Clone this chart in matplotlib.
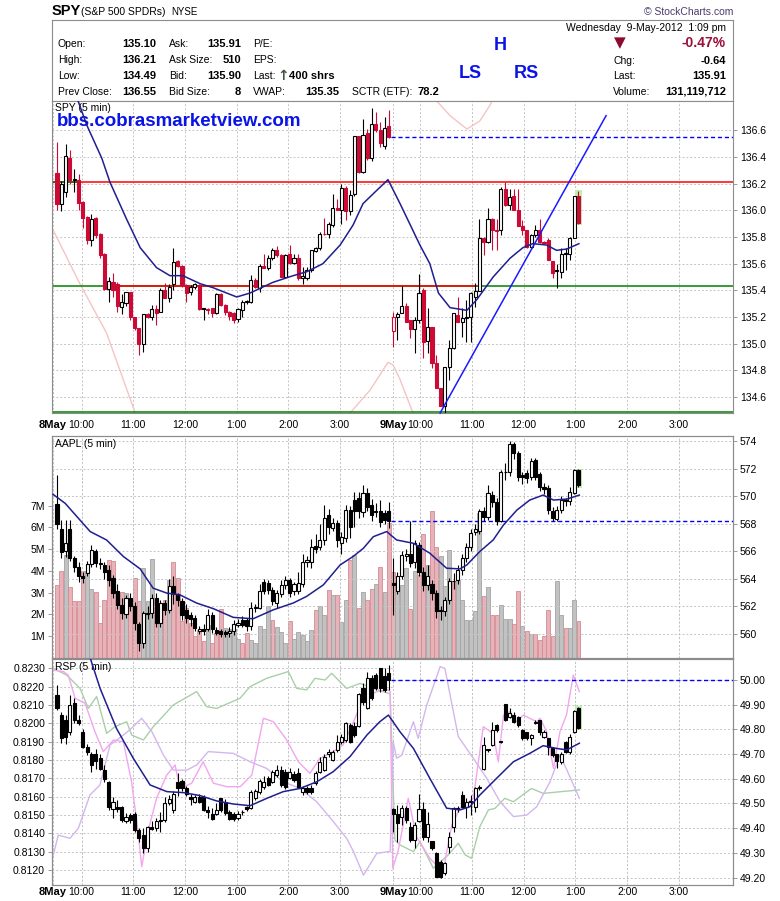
import numpy as np
import matplotlib
matplotlib.use("Agg")
import matplotlib.pyplot as plt
from matplotlib.patches import Rectangle

plt.rcParams.update({"font.family": ["Liberation Sans", "DejaVu Sans"], "font.size": 7.5,
                     "axes.linewidth": 0.8})

# ---- data: 5-min bars, 8 May (78 bars) then 9 May (44 bars, up to 1:05 pm) ----
spy_open = [136.28, 136.05, 136.14, 136.39, 136.225, 136.23, 136.06, 135.95, 135.78, 135.94,
            135.82, 135.67, 135.41, 135.46, 135.45, 135.275, 135.305, 135.385, 135.20, 135.12,
            134.995, 135.22, 135.197, 135.257, 135.24, 135.405, 135.34, 135.45, 135.62, 135.584,
            135.44, 135.385, 135.422, 135.44, 135.265, 135.26, 135.265, 135.232, 135.372, 135.29,
            135.24, 135.232, 135.182, 135.252, 135.315, 135.315, 135.476, 135.415, 135.584, 135.57,
            135.64, 135.701, 135.664, 135.50, 135.671, 135.606, 135.644, 135.49, 135.49, 135.556,
            135.696, 135.721, 135.826, 135.826, 135.889, 136.02, 136.006, 136.17, 135.996, 136.12,
            136.555, 136.288, 136.58, 136.39, 136.65, 136.605, 136.48, 136.63,
            135.097, 135.20, 135.23, 135.282, 135.177, 135.107, 135.177, 135.402, 135.022, 135.122,
            134.852, 134.67, 134.53, 134.827, 134.965, 135.214, 135.164, 135.19, 135.197, 135.352,
            135.397, 135.794, 135.764, 135.938, 135.851, 135.851, 136.163, 136.038, 136.105, 136.006,
            135.886, 135.851, 135.726, 135.813, 135.856, 135.764, 135.776, 135.62, 135.55, 135.539,
            135.67, 135.676, 135.796, 136.106]
spy_high = [136.51, 136.22, 136.495, 136.455, 136.31, 136.27, 136.07, 135.96, 135.97, 135.95,
            135.83, 135.68, 135.50, 135.53, 135.46, 135.37, 135.39, 135.39, 135.20, 135.12,
            135.225, 135.23, 135.29, 135.29, 135.415, 135.455, 135.45, 135.714, 135.626, 135.59,
            135.45, 135.44, 135.455, 135.45, 135.27, 135.27, 135.27, 135.382, 135.38, 135.295,
            135.245, 135.24, 135.264, 135.327, 135.325, 135.515, 135.49, 135.60, 135.676, 135.664,
            135.714, 135.731, 135.67, 135.669, 135.739, 135.676, 135.676, 135.576, 135.576, 135.706,
            135.726, 135.84, 135.94, 135.914, 136.12, 136.088, 136.20, 136.18, 136.15, 136.56,
            136.56, 136.682, 136.61, 136.77, 136.74, 136.66, 136.70, 136.75,
            135.24, 135.24, 135.432, 135.302, 135.18, 135.202, 135.521, 135.414, 135.264, 135.127,
            134.915, 134.67, 134.827, 135.027, 135.232, 135.352, 135.264, 135.327, 135.389, 135.452,
            135.934, 135.80, 136.021, 135.945, 135.938, 136.175, 136.21, 136.163, 136.163, 136.163,
            135.926, 135.856, 135.826, 135.889, 135.934, 135.77, 135.789, 135.62, 135.601, 135.714,
            135.714, 135.801, 136.11, 136.143]
spy_low = [136.00, 135.995, 136.10, 136.20, 136.14, 136.00, 135.865, 135.75, 135.73, 135.79,
           135.64, 135.40, 135.315, 135.35, 135.24, 135.225, 135.28, 135.18, 135.10, 134.915,
           134.94, 135.19, 135.18, 135.14, 135.235, 135.34, 135.315, 135.40, 135.575, 135.426,
           135.315, 135.365, 135.41, 135.25, 135.18, 135.22, 135.20, 135.225, 135.28, 135.215,
           135.175, 135.152, 135.165, 135.202, 135.30, 135.307, 135.415, 135.39, 135.564, 135.55,
           135.627, 135.651, 135.50, 135.496, 135.601, 135.60, 135.48, 135.444, 135.476, 135.539,
           135.689, 135.70, 135.814, 135.79, 135.876, 136.00, 135.90, 135.93, 135.963, 136.11,
           136.28, 136.28, 136.38, 136.37, 136.59, 136.475, 136.46, 136.54,
           134.977, 135.027, 135.227, 135.164, 135.04, 134.927, 135.152, 134.89, 134.927, 134.815,
           134.665, 134.53, 134.48, 134.727, 134.957, 135.164, 135.052, 135.015, 135.015, 135.277,
           135.397, 135.664, 135.756, 135.701, 135.701, 135.818, 136.03, 136.00, 136.006, 135.881,
           135.814, 135.721, 135.714, 135.80, 135.756, 135.75, 135.626, 135.489, 135.414, 135.489,
           135.551, 135.626, 135.79, 135.896]
spy_close = [136.05, 136.20, 136.405, 136.225, 136.235, 136.055, 135.94, 135.78, 135.935, 135.815,
             135.664, 135.41, 135.47, 135.40, 135.28, 135.31, 135.385, 135.20, 135.115, 134.995,
             135.22, 135.20, 135.257, 135.232, 135.405, 135.345, 135.427, 135.614, 135.584, 135.44,
             135.382, 135.422, 135.445, 135.26, 135.26, 135.255, 135.232, 135.372, 135.29, 135.24,
             135.207, 135.177, 135.257, 135.315, 135.32, 135.476, 135.427, 135.581, 135.571, 135.644,
             135.701, 135.664, 135.501, 135.664, 135.606, 135.644, 135.49, 135.506, 135.556, 135.701,
             135.721, 135.826, 135.819, 135.90, 136.02, 136.006, 136.17, 135.996, 136.113, 136.555,
             136.288, 136.562, 136.39, 136.65, 136.605, 136.505, 136.62, 136.55,
             135.20, 135.22, 135.282, 135.164, 135.107, 135.177, 135.382, 135.015, 135.122, 134.852,
             134.665, 134.53, 134.827, 134.965, 135.232, 135.164, 135.19, 135.197, 135.382, 135.397,
             135.794, 135.764, 135.938, 135.851, 135.846, 136.163, 136.038, 136.10, 136.006, 135.886,
             135.851, 135.726, 135.813, 135.856, 135.764, 135.756, 135.626, 135.531, 135.545, 135.676,
             135.68, 135.796, 136.106, 135.906]

aapl_open = [569.44, 567.63, 566.0, 567.63, 565.55, 564.9, 564.25, 564.4, 565.07, 566.0,
             565.15, 565.0, 564.66, 564.06, 563.1, 562.1, 561.45, 562.65, 562.0, 560.7,
             559.35, 561.47, 561.5, 562.6, 560.8, 562.25, 561.76, 563.5, 562.9, 562.4,
             561.76, 561.4, 561.16, 560.2, 560.4, 560.4, 561.4, 560.3, 560.2, 560.15,
             560.07, 560.2, 560.68, 561.0, 561.0, 560.56, 561.88, 561.9, 563.8, 563.7,
             563.2, 562.25, 562.92, 563.53, 563.94, 563.1, 563.1, 563.65, 565.26, 565.2,
             566.4, 566.35, 566.83, 568.64, 567.73, 568.04, 566.6, 566.95, 569.0, 569.73,
             569.85, 568.84, 570.21, 569.37, 568.9, 568.9, 568.8, 568.9,
             563.7, 563.16, 564.18, 565.7, 565.8, 565.22, 566.47, 564.54, 563.57, 563.62,
             562.97, 561.76, 561.64, 562.49, 563.86, 563.94, 564.66, 565.5, 566.35, 567.44,
             567.48, 568.93, 568.52, 570.09, 569.61, 568.21, 571.73, 571.73, 573.83, 573.11,
             571.54, 571.66, 571.42, 572.63, 571.59, 570.69, 570.57, 568.93, 568.35, 569.01,
             569.73, 569.66, 570.26, 571.9]
aapl_high = [571.54, 568.3, 568.3, 568.3, 565.7, 565.2, 564.5, 565.3, 566.5, 566.2,
             565.5, 565.2, 565.0, 564.3, 563.6, 562.6, 562.8, 563.0, 562.3, 560.9,
             561.7, 562.0, 562.9, 563.0, 562.5, 562.5, 564.0, 564.2, 563.0, 562.6,
             562.2, 561.6, 561.4, 560.6, 560.7, 561.8, 561.6, 560.5, 560.4, 560.3,
             560.5, 561.0, 561.1, 561.3, 561.2, 562.3, 562.2, 563.6, 564.0, 563.9,
             563.4, 563.2, 563.9, 564.2, 564.1, 563.8, 564.5, 565.8, 565.7, 566.9,
             567.3, 568.0, 569.4, 569.1, 568.4, 568.3, 567.4, 569.4, 569.3, 570.3,
             570.3, 570.8, 570.6, 569.8, 569.5, 569.7, 569.0, 569.6,
             565.5, 564.5, 566.0, 566.2, 568.2, 566.8, 566.7, 564.9, 565.0, 563.9,
             563.2, 562.0, 562.7, 564.1, 564.4, 565.0, 565.8, 566.6, 567.6, 568.0,
             569.1, 569.2, 570.8, 570.4, 569.9, 571.9, 572.4, 574.0, 573.95, 573.3,
             571.8, 571.9, 572.8, 572.8, 571.8, 571.0, 570.8, 569.2, 569.3, 570.0,
             569.9, 570.7, 572.0, 571.95]
aapl_low = [567.6, 565.5, 565.6, 565.3, 564.5, 563.8, 563.7, 564.2, 564.9, 564.9,
            564.7, 564.0, 563.5, 562.6, 561.8, 561.1, 561.2, 561.7, 560.3, 558.8,
            559.0, 561.1, 561.2, 560.5, 560.5, 561.4, 561.5, 562.2, 562.0, 561.0,
            560.8, 560.6, 560.2, 560.0, 559.9, 560.2, 560.1, 559.9, 559.8, 559.8,
            559.8, 559.9, 560.5, 560.5, 560.2, 560.3, 561.6, 561.8, 562.9, 562.9,
            562.1, 561.9, 562.7, 563.3, 562.7, 562.8, 562.9, 563.4, 564.9, 564.8,
            565.9, 566.1, 566.5, 567.3, 567.5, 566.3, 565.8, 566.7, 567.0, 567.8,
            568.4, 568.5, 568.9, 568.2, 568.5, 567.8, 568.0, 567.7,
            561.4, 562.9, 564.0, 565.3, 564.9, 564.8, 564.2, 563.1, 563.2, 562.5,
            561.2, 561.0, 561.3, 562.2, 563.3, 563.6, 564.3, 565.2, 566.0, 567.2,
            567.3, 568.2, 568.3, 569.2, 567.9, 568.1, 571.2, 571.5, 572.7, 571.1,
            570.9, 571.0, 571.2, 571.2, 570.4, 570.2, 568.7, 568.2, 568.2, 568.8,
            569.3, 569.4, 570.2, 570.7]
aapl_close = [567.97, 565.99, 566.6, 565.55, 564.9, 564.25, 564.1, 565.07, 566.1, 565.15,
              565.07, 564.54, 563.9, 562.97, 562.1, 561.5, 562.6, 562.0, 560.8, 559.35,
              561.5, 561.52, 562.6, 560.8, 562.25, 561.76, 563.5, 562.9, 562.5, 561.4,
              561.16, 561.1, 560.44, 560.4, 560.25, 561.4, 560.4, 560.08, 560.0, 560.03,
              560.24, 560.73, 560.8, 560.68, 560.6, 561.88, 561.95, 563.14, 563.14, 563.2,
              562.37, 562.97, 563.57, 563.94, 562.97, 563.6, 563.7, 565.26, 565.4, 566.35,
              566.16, 566.83, 568.45, 567.8, 568.04, 566.83, 567.03, 569.0, 567.8, 568.93,
              568.9, 570.21, 569.25, 568.64, 568.84, 568.16, 568.3, 568.18,
              563.57, 564.18, 565.75, 565.8, 565.19, 566.59, 564.54, 563.57, 564.18, 562.97,
              561.64, 561.64, 562.49, 563.86, 563.82, 564.66, 565.55, 566.35, 567.32, 567.63,
              568.93, 568.52, 570.21, 569.56, 568.21, 571.78, 571.78, 573.83, 573.11, 571.42,
              571.42, 571.3, 572.55, 571.42, 570.69, 570.53, 569.01, 568.4, 569.01, 569.73,
              569.66, 570.33, 571.9, 570.82]
aapl_volume_m = [3.37, 4.02, 4.71, 3.24, 2.6, 2.6, 4.02, 4.02, 3.18, 3.03,
                 1.61, 2.68, 4.48, 4.47, 2.91, 3.02, 2.98, 2.48, 3.67, 2.6,
                 4.13, 2.6, 4.56, 2.68, 2.25, 2.68, 3.6, 4.39, 3.67, 1.69,
                 2.3, 1.61, 1.0, 1.27, 0.8, 1.53, 0.69, 1.15, 2.25, 1.38,
                 1.34, 1.31, 0.88, 0.69, 1.15, 0.85, 0.69, 1.46, 1.34, 2.37,
                 1.76, 1.41, 1.18, 0.69, 1.69, 0.89, 1.18, 1.05, 0.77, 1.27,
                 2.19, 2.4, 1.99, 3.14, 2.91, 2.91, 1.64, 2.68, 4.5, 4.74,
                 2.3, 3.02, 2.68, 3.18, 3.41, 4.2, 3.02, 6.19,
                 3.95, 3.32, 3.37, 4.13, 2.25, 4.02, 3.82, 5.70, 4.28, 6.76,
                 5.12, 4.69, 3.29, 4.97, 3.52, 3.6, 2.68, 1.73, 1.76, 2.15,
                 6.68, 2.86, 3.24, 1.99, 1.99, 2.45, 1.79, 1.79, 1.58, 3.09,
                 1.49, 1.23, 1.12, 1.12, 0.85, 1.0, 2.19, 1.0, 3.55, 1.99,
                 1.38, 1.38, 2.68, 1.72]

rsp_open = [49.939, 49.858, 49.84, 49.788, 49.906, 49.838, 49.791, 49.73, 49.70, 49.70,
            49.686, 49.636, 49.588, 49.478, 49.487, 49.487, 49.43, 49.453, 49.456, 49.393,
            49.372, 49.318, 49.406, 49.399, 49.43, 49.433, 49.50, 49.474, 49.588, 49.591,
            49.561, 49.528, 49.507, 49.528, 49.528, 49.474, 49.456, 49.456, 49.521, 49.507,
            49.467, 49.456, 49.44, 49.465, 49.487, 49.48, 49.521, 49.548, 49.568, 49.605,
            49.588, 49.615, 49.636, 49.629, 49.605, 49.618, 49.622, 49.545, 49.564, 49.564,
            49.582, 49.626, 49.636, 49.70, 49.676, 49.716, 49.748, 49.757, 49.818, 49.815,
            49.815, 49.966, 49.888, 50.007, 50.02, 50.047, 50.017, 50.03,
            49.478, 49.456, 49.447, 49.483, 49.406, 49.352, 49.43, 49.478, 49.366, 49.348,
            49.298, 49.264, 49.217, 49.325, 49.406, 49.478, 49.534, 49.487, 49.507, 49.487,
            49.561, 49.64, 49.716, 49.737, 49.818, 49.753, 49.902, 49.852, 49.858, 49.852,
            49.798, 49.788, 49.767, 49.825, 49.838, 49.77, 49.767, 49.723, 49.699, 49.669,
            49.748, 49.71, 49.788, 49.888]
rsp_high = [49.98, 49.87, 49.86, 49.94, 49.926, 49.858, 49.80, 49.74, 49.71, 49.72,
            49.70, 49.656, 49.59, 49.528, 49.514, 49.49, 49.46, 49.46, 49.466, 49.40,
            49.40, 49.41, 49.43, 49.44, 49.467, 49.528, 49.534, 49.55, 49.622, 49.60,
            49.57, 49.54, 49.534, 49.54, 49.534, 49.49, 49.48, 49.50, 49.521, 49.52,
            49.474, 49.465, 49.47, 49.474, 49.49, 49.555, 49.56, 49.60, 49.61, 49.61,
            49.636, 49.656, 49.65, 49.64, 49.642, 49.63, 49.642, 49.57, 49.57, 49.575,
            49.63, 49.69, 49.70, 49.72, 49.716, 49.777, 49.78, 49.831, 49.825, 49.83,
            49.946, 49.987, 50.034, 50.02, 50.027, 50.05, 50.047, 50.06,
            49.48, 49.494, 49.494, 49.49, 49.426, 49.426, 49.537, 49.507, 49.467, 49.35,
            49.305, 49.27, 49.264, 49.386, 49.487, 49.49, 49.55, 49.521, 49.534, 49.568,
            49.575, 49.771, 49.72, 49.831, 49.82, 49.755, 49.902, 49.885, 49.872, 49.855,
            49.80, 49.79, 49.78, 49.84, 49.838, 49.798, 49.767, 49.726, 49.70, 49.71,
            49.755, 49.78, 49.879, 49.89]
rsp_low = [49.878, 49.744, 49.74, 49.777, 49.825, 49.818, 49.724, 49.696, 49.629, 49.64,
           49.636, 49.588, 49.474, 49.44, 49.467, 49.426, 49.42, 49.42, 49.386, 49.345,
           49.298, 49.305, 49.393, 49.39, 49.386, 49.426, 49.494, 49.46, 49.53, 49.55,
           49.53, 49.494, 49.50, 49.50, 49.47, 49.44, 49.433, 49.453, 49.467, 49.455,
           49.433, 49.43, 49.435, 49.453, 49.47, 49.477, 49.515, 49.54, 49.56, 49.572,
           49.582, 49.608, 49.568, 49.56, 49.60, 49.585, 49.564, 49.535, 49.54, 49.54,
           49.575, 49.622, 49.63, 49.69, 49.672, 49.71, 49.74, 49.75, 49.744, 49.77,
           49.811, 49.90, 49.883, 49.919, 49.96, 49.953, 49.953, 49.96,
           49.386, 49.345, 49.413, 49.42, 49.345, 49.318, 49.426, 49.352, 49.345, 49.312,
           49.204, 49.197, 49.21, 49.298, 49.386, 49.465, 49.48, 49.44, 49.453, 49.467,
           49.555, 49.636, 49.71, 49.734, 49.79, 49.745, 49.834, 49.845, 49.825, 49.811,
           49.757, 49.757, 49.737, 49.82, 49.777, 49.767, 49.696, 49.69, 49.645, 49.66,
           49.703, 49.70, 49.784, 49.80]
rsp_close = [49.885, 49.767, 49.77, 49.899, 49.838, 49.825, 49.73, 49.707, 49.656, 49.672,
             49.64, 49.599, 49.487, 49.507, 49.478, 49.433, 49.447, 49.433, 49.393, 49.359,
             49.318, 49.406, 49.397, 49.429, 49.433, 49.50, 49.52, 49.537, 49.561, 49.564,
             49.537, 49.52, 49.528, 49.507, 49.474, 49.467, 49.437, 49.474, 49.474, 49.46,
             49.437, 49.437, 49.456, 49.464, 49.478, 49.548, 49.55, 49.591, 49.588, 49.575,
             49.629, 49.636, 49.575, 49.568, 49.626, 49.595, 49.568, 49.564, 49.545, 49.545,
             49.622, 49.669, 49.69, 49.71, 49.71, 49.748, 49.77, 49.827, 49.748, 49.777,
             49.942, 49.912, 50.007, 49.926, 49.966, 49.966, 49.96, 50.00,
             49.456, 49.42, 49.483, 49.433, 49.352, 49.413, 49.478, 49.366, 49.416, 49.321,
             49.204, 49.204, 49.258, 49.366, 49.483, 49.483, 49.487, 49.507, 49.51, 49.561,
             49.568, 49.737, 49.716, 49.798, 49.798, 49.748, 49.838, 49.865, 49.831, 49.818,
             49.767, 49.767, 49.777, 49.831, 49.788, 49.788, 49.73, 49.696, 49.672, 49.70,
             49.71, 49.77, 49.875, 49.804]

# moving averages: (bar position, value)
spy_ma_x = [3.0, 4.9, 6.9, 10.4, 12.3, 16.2, 19.3, 23.1, 26.2, 29.2, 33.2, 36.2, 41.7, 44.8, 50.1,
            54.8, 58.0, 61.7, 65.7, 68.7, 71.0, 74.2, 76.8, 79.6, 84.2, 86.5, 88.5, 91.2, 95.1,
            97.4, 101.2, 105.1, 108.1, 110.4, 113.6, 115.9, 118.3, 121.1]
spy_ma_y = [136.94, 136.82, 136.64, 136.39, 136.21, 135.93, 135.72, 135.57, 135.51, 135.51,
            135.45, 135.42, 135.35, 135.38, 135.46, 135.51, 135.54, 135.60, 135.74, 135.89,
            136.05, 136.15, 136.23, 136.05, 135.74, 135.60, 135.38, 135.27, 135.25, 135.33,
            135.50, 135.64, 135.72, 135.75, 135.74, 135.70, 135.71, 135.75]
aapl_ma_x = [-0.9, 1.9, 7.7, 11.5, 15.4, 19.3, 22.3, 25.5, 28.5, 32.4, 36.3, 40.9, 45.5, 50.2,
             54.8, 57.9, 61.8, 65.7, 68.7, 71.1, 73.4, 76.5, 78.8, 82.7, 86.5, 90.4, 93.5,
             95.1, 98.1, 101.2, 103.6, 106.7, 109.7, 112.8, 115.2, 118.3, 121.2]
aapl_ma_y = [570.14, 569.49, 567.44, 566.83, 565.63, 564.73, 563.33, 562.97, 562.85, 562.25,
             561.84, 561.21, 561.11, 561.76, 562.25, 562.73, 563.57, 565.02, 565.63, 566.23,
             567.07, 567.44, 566.83, 566.59, 565.87, 564.78, 564.73, 565.02, 565.99, 566.83,
             567.92, 569.0, 569.73, 570.09, 569.73, 569.8, 570.09]
rsp_ma_x = [7.5, 10.0, 13.8, 17.7, 21.6, 25.5, 29.3, 33.2, 37.1, 40.9, 44.8, 48.7, 52.5, 56.4,
            60.3, 64.1, 68.0, 71.9, 74.9, 76.9, 79.6, 82.7, 86.5, 90.4, 93.5, 95.8, 98.1,
            102.0, 105.9, 109.7, 112.8, 115.9, 118.3, 121.2]
rsp_ma_y = [50.10, 49.966, 49.804, 49.683, 49.575, 49.548, 49.544, 49.532, 49.51, 49.498,
            49.491, 49.521, 49.548, 49.561, 49.588, 49.629, 49.69, 49.777, 49.831, 49.858,
            49.79, 49.723, 49.602, 49.481, 49.474, 49.487, 49.534, 49.602, 49.669, 49.703,
            49.734, 49.723, 49.717, 49.744]

# faint overlays (NaN = off chart)
spy_pink_x = [-0.86, 5.3, 11.5, 17.6, 20.4, np.nan, 65.7, 68.0, 72.6, 76.8, 78.0, 79.6, 82.6,
              84.2, np.nan, 85.4, 88.1, 91.2, 95.1, 98.1, 100.5, 101.6]
spy_pink_y = [135.85, 135.45, 135.08, 134.53, 134.28, np.nan, 134.28, 134.48, 134.65, 134.86,
              134.84, 134.73, 134.48, 134.28, np.nan, 136.86, 136.82, 136.71, 136.61, 136.67,
              136.79, 136.86]
rsp_green_x = [-0.85, 2.25, 5.34, 7.27, 9.2, 11.53, 13.46, 16.17, 17.33, 20.04, 22.36, 26.99,
               29.7, 32.41, 34.73, 37.05, 42.46, 44.78, 48.65, 53.68, 55.61, 57.93, 59.87, 62.19,
               63.73, 67.2, 70.3, 73.4, 76.9, 77.3, 78.4, 79.6, 82.7, 84.2, 85.4, 87.3, 90.8,
               93.1, 94.7, 96.2, 98.1, 100.1, 101.6, 103.9, 105.9, 110.1, 112.8, 121.2]
rsp_green_y = [50.047, 50.02, 49.966, 49.885, 49.933, 49.784, 49.811, 49.831, 49.777, 49.757,
               49.811, 49.899, 49.926, 49.953, 49.892, 49.885, 49.926, 49.973, 50.007, 50.034,
               49.966, 49.96, 50.007, 50.0, 50.027, 49.966, 49.986, 49.966, 49.946, 49.942,
               49.352, 49.332, 49.305, 49.345, 49.305, 49.238, 49.292, 49.339, 49.292, 49.278,
               49.406, 49.474, 49.48, 49.521, 49.507, 49.561, 49.541, 49.555]
rsp_violet_x = [-0.85, 0.3, 3.0, 4.96, 7.66, 9.98, 12.3, 15.4, 17.7, 19.65, 22.0, 24.7, 27.0,
                30.1, 32.4, 35.1, 40.9, 44.8, 48.65, 52.5, 56.4, 60.25, 64.1, 67.2, 68.8, 71.1,
                74.2, 76.9, 77.3, 78.0, 78.8, 80.0, 82.7, 83.8, 85.8, 88.9, 90.0, 93.1, 96.6,
                99.7, 102.8, 105.9, 109.0, 111.3, 114.4, 116.7, 118.3, 121.2]
rsp_violet_y = [49.292, 49.372, 49.359, 49.40, 49.535, 49.575, 49.737, 49.777, 49.811, 49.845,
                49.791, 49.696, 49.635, 49.635, 49.656, 49.71, 49.703, 49.669, 49.642, 49.588,
                49.561, 49.507, 49.427, 49.359, 49.305, 49.21, 49.298, 49.305, 49.305, 49.75,
                49.683, 49.696, 49.831, 49.764, 49.899, 50.054, 50.047, 49.771, 49.683, 49.602,
                49.507, 49.447, 49.453, 49.487, 49.588, 49.696, 49.636, 49.521]
rsp_pink_x = [-0.85, 1.5, 2.6, 4.2, 6.5, 8.8, 10.75, 13.1, 15.4, 17.3, 18.9, 19.65, 21.2, 23.1,
              25.45, 27.4, 28.5, 31.25, 33.9, 36.3, 39.4, 42.5, 45.2, 47.9, 50.2, 53.3, 56.0,
              58.7, 61.0, 64.1, 66.4, 68.8, 71.1, 74.2, 76.9, 77.3, 77.9, 79.2, 81.5, 83.4,
              86.5, 89.6, 91.6, 93.5, 96.6, 98.9, 101.2, 102.4, 103.6, 105.1, 106.6, 108.2,
              111.3, 112.1, 113.6, 115.2, 116.7, 118.2, 119.8, 121.2]
rsp_pink_y = [50.04, 50.034, 50.02, 49.926, 49.906, 49.791, 49.71, 49.757, 49.75, 49.588,
              49.373, 49.244, 49.393, 49.521, 49.615, 49.656, 49.561, 49.582, 49.669, 49.582,
              49.568, 49.568, 49.615, 49.845, 49.831, 49.757, 49.669, 49.622, 49.683, 49.71,
              49.737, 49.831, 49.926, 49.953, 49.96, 49.953, 49.238, 49.312, 49.521, 49.366,
              49.278, 49.224, 49.413, 49.48, 49.521, 49.811, 49.784, 49.669, 49.858, 49.872,
              49.831, 49.858, 49.831, 49.845, 49.791, 49.642, 49.791, 49.858, 50.02, 49.953]

# annotation levels
SPY_RES, SPY_SUP, SPY_LOW, SPY_PREV = 136.21, 135.43, 134.49, 136.55
SPY_TREND = ([88.9, 127.4], [134.48, 136.71])
AAPL_PREV, RSP_PREV = 568.18, 50.00
RSP_LEFT_ANCHOR = (50.047, 0.8230, 0.01348)   # right value, left value, left per right unit

DAYS = ["8May", "9May"]
HOURS = ["10:00", "11:00", "12:00", "1:00", "2:00", "3:00"]
BARS_PER_DAY = 78

# ---- layout helpers (pixel -> figure) ----
W, H = 780, 901
def rect(x0, y0, x1, y1):
    return [x0 / W, 1 - y1 / H, (x1 - x0) / W, (y1 - y0) / H]
def fx(x): return x / W
def fy(y): return 1 - y / H

RED = "#cc0a36"
GRID = dict(color="#c4c4c4", lw=0.7, ls=(0, (2, 2)))
SPINE = "#8c8c8c"
XLIM = (-1.16, 156.85)

day_lines = [BARS_PER_DAY * d - 0.9 + 0.9 * d for d in range(2)]
hour_lines = [BARS_PER_DAY * d + 6 + 12 * n - 0.3 + 0.6 * d for d in range(2) for n in range(len(HOURS))]


def style(ax):
    ax.set_xlim(*XLIM)
    for s in ax.spines.values():
        s.set_color(SPINE)
    ax.set_xticks([])
    ax.tick_params(axis="y", length=3, width=0.6, color=SPINE, labelsize=7.5, pad=2)
    for k in day_lines + hour_lines:
        ax.axvline(k, zorder=0.2, **GRID)


def candles(ax, o, h, l, c, two_color, mindy):
    o, h, l, c = map(np.asarray, (o, h, l, c))
    prev = np.r_[o[0], c[:-1]]
    for i in range(len(c)):
        col = RED if (two_color and c[i] < prev[i]) else "black"
        ax.vlines(i, l[i], h[i], color=col, lw=0.8, zorder=3)
        lo, hi = min(o[i], c[i]), max(o[i], c[i])
        face = "white" if c[i] >= o[i] else col
        ax.add_patch(Rectangle((i - 0.36, lo), 0.72, max(hi - lo, mindy), facecolor=face,
                               edgecolor=col, lw=0.8, zorder=4))


def highlight_last(ax, h, l, pad):
    i = len(h) - 1
    ax.add_patch(Rectangle((i - 0.75, l[i] - pad), 1.5, h[i] - l[i] + 2 * pad,
                           facecolor="#bff0b0", edgecolor="none", zorder=2))


def time_labels(ax, yoff):
    tr = ax.get_xaxis_transform()
    for d, k in enumerate(day_lines):
        ax.text(k, yoff, DAYS[d], transform=tr, ha="center", va="center", fontsize=8,
                fontweight="bold", clip_on=False)
    for j, k in enumerate(hour_lines):
        ax.text(k, yoff, HOURS[j % len(HOURS)], transform=tr, ha="center", va="center",
                fontsize=7.5, clip_on=False)


fig = plt.figure(figsize=(7.8, 9.01), dpi=100)

# ---- header ----
hdr = fig.add_axes(rect(52, 20, 733, 101))
hdr.set_xticks([]); hdr.set_yticks([])
for s in hdr.spines.values():
    s.set_color(SPINE)
fig.text(fx(52), fy(11), "SPY", fontsize=10.5, fontweight="bold", va="center")
fig.text(fx(81), fy(12), "(S&P 500 SPDRs)", fontsize=7.5, va="center")
fig.text(fx(171), fy(12), "NYSE", fontsize=7, va="center")
fig.text(fx(733), fy(12), "\u00a9 StockCharts.com", fontsize=7.5, color="#4a3b6b", ha="right", va="center")

rows = [44, 60, 76, 92]
col1 = [("Open:", "135.10"), ("High:", "136.21"), ("Low:", "134.49"), ("Prev Close:", "136.55")]
col2 = [("Ask:", "135.91"), ("Ask Size:", "510"), ("Bid:", "135.90"), ("Bid Size:", "8")]
for y, (lab, val) in zip(rows, col1):
    fig.text(fx(58), fy(y), lab, va="center", fontsize=7.5)
    fig.text(fx(156), fy(y), val, va="center", ha="right", fontsize=8, fontweight="bold")
for y, (lab, val) in zip(rows, col2):
    fig.text(fx(169), fy(y), lab, va="center", fontsize=7.5)
    fig.text(fx(241), fy(y), val, va="center", ha="right", fontsize=8, fontweight="bold")
for y, lab in zip(rows, ["P/E:", "EPS:", "Last:", "VWAP:"]):
    fig.text(fx(253), fy(y), lab, va="center", fontsize=7.5)
fig.text(fx(283), fy(76), "\u2191", va="center", ha="center", fontsize=10, fontweight="bold",
         color="#3d553d", family="DejaVu Sans")
fig.text(fx(289), fy(76), "400 shrs", va="center", fontsize=8, fontweight="bold")
fig.text(fx(339), fy(92), "135.35", va="center", ha="right", fontsize=8, fontweight="bold")
fig.text(fx(352), fy(92), "SCTR (ETF):", va="center", fontsize=7.5)
fig.text(fx(417), fy(92), "78.2", va="center", fontsize=8, fontweight="bold")

fig.text(fx(726), fy(28), "Wednesday  9-May-2012  1:09 pm", va="center", ha="right", fontsize=7.5)
fig.text(fx(620), fy(43), "\u25bc", va="center", ha="center", fontsize=11, color="#8b0a2e",
         family="DejaVu Sans")
fig.text(fx(726), fy(43), "-0.47%", va="center", ha="right", fontsize=10, fontweight="bold", color="#99103a")
for y, lab, val in [(61, "Chg:", "-0.64"), (76, "Last:", "135.91"), (92, "Volume:", "131,119,712")]:
    fig.text(fx(613), fy(y), lab, va="center", fontsize=7.5)
    fig.text(fx(726), fy(y), val, va="center", ha="right", fontsize=8, fontweight="bold")

for txt, x, y in [("H", 500, 45), ("LS", 470, 73), ("RS", 526, 74)]:
    fig.text(fx(x), fy(y), txt, ha="center", va="center", fontsize=13, fontweight="bold", color="#0a14e6")

# ---- SPY panel ----
ax1 = fig.add_axes(rect(52, 101, 733, 413))
style(ax1)
ax1.set_ylim(134.48, 136.82)
ax1.yaxis.tick_right()
ax1.set_yticks(np.round(np.arange(134.6, 136.61, 0.2), 1))
ax1.set_yticklabels([f"{v:.1f}" for v in np.arange(134.6, 136.61, 0.2)])
ax1.grid(axis="y", zorder=0.2, **GRID)
ax1.set_axisbelow(True)
ax1.plot(spy_pink_x, spy_pink_y, color="#f6c4c4", lw=1.0, zorder=1)
ax1.axhline(SPY_SUP, color="#008000", lw=1.1, zorder=1.5)
ax1.axhline(SPY_LOW, color="#008000", lw=1.1, zorder=1.5)
ax1.axhline(SPY_RES, color="#ff0000", lw=1.1, zorder=1.5)
ax1.hlines(SPY_RES, XLIM[0], 4.8, color="#008000", lw=1.1, zorder=1.6)
ax1.hlines(SPY_SUP + 0.005, 10.7, 97.4, color="#ff0000", lw=1.1, zorder=1.6)
ax1.hlines(SPY_PREV, 77.5, XLIM[1], color="#0000ff", lw=1.0, ls=(0, (3, 2)), zorder=1.6)
highlight_last(ax1, spy_high, spy_low, 0.008)
candles(ax1, spy_open, spy_high, spy_low, spy_close, True, 0.005)
ax1.plot(spy_ma_x, spy_ma_y, color="#1f1f8f", lw=1.1, zorder=5)
ax1.plot(*SPY_TREND, color="#1a1aff", lw=1.1, zorder=5, clip_on=False)
ax1.text(0.005, 0.994, "SPY (5 min)", transform=ax1.transAxes, fontsize=7.5, va="top")
ax1.text(0.007, 0.934, "bbs.cobrasmarketview.com", transform=ax1.transAxes, fontsize=13.5,
         fontweight="bold", color="#0a14e6", va="center")
time_labels(ax1, -0.037)

# ---- AAPL panel: volume base (left) + price on top (right) ----
ax2v = fig.add_axes(rect(52, 436, 733, 658))
style(ax2v)
ax2v.set_ylim(0, 10.2)
ax2v.set_yticks(range(1, 8))
ax2v.set_yticklabels([f"{v}M" for v in range(1, 8)])
ac = np.asarray(aapl_close)
aprev = np.r_[aapl_open[0], ac[:-1]]
vcol = np.where(ac < aprev, "#e8b3b8", "#c2c2c2")
ecol = np.where(ac < aprev, "#d38b93", "#a3a3a3")
ax2v.bar(np.arange(len(aapl_volume_m)), aapl_volume_m, width=0.92, color=vcol, edgecolor=ecol,
         lw=0.6, zorder=1)
ax2 = ax2v.twinx()
style(ax2)
ax2.set_ylim(558.26, 574.38)
ax2.set_yticks(range(560, 575, 2))
ax2.grid(axis="y", zorder=0.2, **GRID)
ax2.hlines(AAPL_PREV, 77.5, XLIM[1], color="#0000ff", lw=1.0, ls=(0, (3, 2)), zorder=1.6)
highlight_last(ax2, aapl_high, aapl_low, 0.06)
candles(ax2, aapl_open, aapl_high, aapl_low, aapl_close, False, 0.04)
ax2.plot(aapl_ma_x, aapl_ma_y, color="#1f1f8f", lw=1.1, zorder=5)
ax2.text(0.005, 0.985, "AAPL (5 min)", transform=ax2.transAxes, fontsize=7.5, va="top")

# ---- RSP panel: ratio scale (left) base + price (right) ----
r_lo, r_hi = 49.170, 50.085
ra, la, slope = RSP_LEFT_ANCHOR
ax3l = fig.add_axes(rect(52, 659, 733, 885))
style(ax3l)
ax3l.set_ylim(la + (r_lo - ra) * slope, la + (r_hi - ra) * slope)
lt = np.round(np.arange(0.8120, 0.82305, 0.001), 4)
ax3l.set_yticks(lt)
ax3l.set_yticklabels([f"{v:.4f}" for v in lt])
ax3l.hlines(lt, XLIM[0], BARS_PER_DAY, zorder=0.2, **GRID)
ax3 = ax3l.twinx()
style(ax3)
ax3.set_ylim(r_lo, r_hi)
rt = np.round(np.arange(49.2, 50.01, 0.1), 2)
ax3.set_yticks(rt)
ax3.set_yticklabels([f"{v:.2f}" for v in rt])
ax3.hlines(rt, BARS_PER_DAY, XLIM[1], zorder=0.2, **GRID)
ax3.plot(rsp_green_x, rsp_green_y, color="#a9cfa9", lw=1.0, zorder=1)
ax3.plot(rsp_violet_x, rsp_violet_y, color="#d3b6ee", lw=1.0, zorder=1)
ax3.plot(rsp_pink_x, rsp_pink_y, color="#f2a6ee", lw=1.0, zorder=1)
ax3.hlines(RSP_PREV, 77.5, XLIM[1], color="#0000ff", lw=1.0, ls=(0, (3, 2)), zorder=1.6)
highlight_last(ax3, rsp_high, rsp_low, 0.004)
candles(ax3, rsp_open, rsp_high, rsp_low, rsp_close, False, 0.003)
ax3.plot(rsp_ma_x, rsp_ma_y, color="#1f1f8f", lw=1.1, zorder=5)
ax3.text(0.005, 0.985, "RSP (5 min)", transform=ax3.transAxes, fontsize=7.5, va="top")
time_labels(ax3, -0.03)

fig.savefig("out.png", dpi=100)
